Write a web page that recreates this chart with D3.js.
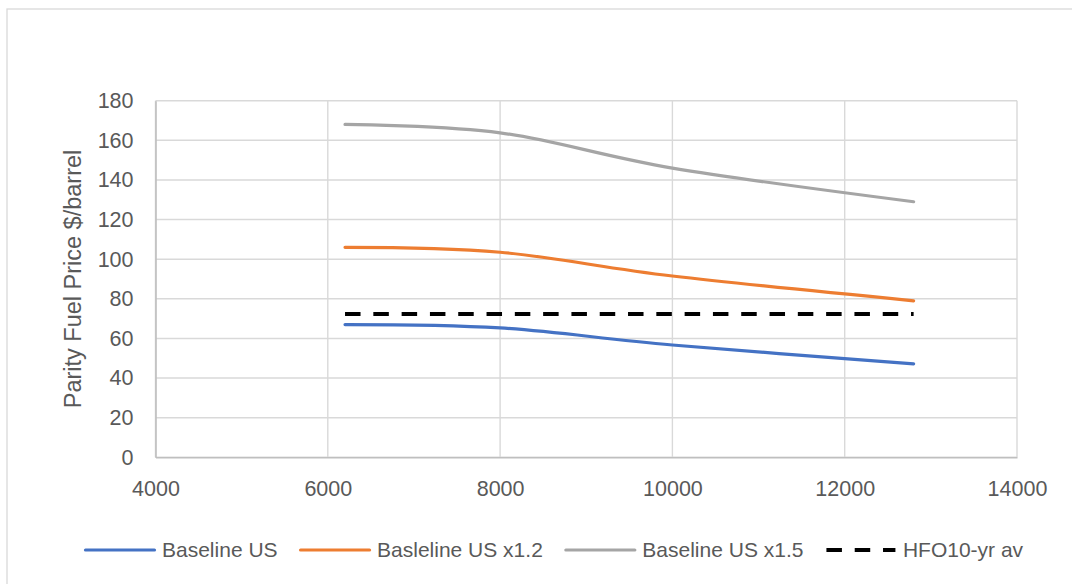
<!DOCTYPE html>
<html>
<head>
<meta charset="utf-8">
<script src="https://cdn.jsdelivr.net/npm/d3@7"></script>
<style>
  html, body { margin: 0; padding: 0; background: #fff; }
  svg { display: block; }
  text { font-family: "Liberation Sans", Arial, sans-serif; fill: #595959; }
</style>
</head>
<body>
<svg id="chart" width="1072" height="584"></svg>
<script>
// Fuel price at parity vs. range, three price scenarios plus the HFO 10-year average
const xValues = [6200, 8000, 10000, 12800];
const baselineUS = [67, 65.3, 56.7, 47.2];
const baselineUS12 = [106, 103.5, 91.5, 79];
const baselineUS15 = [168, 163.8, 146, 129];
const hfoAverage = [72.3, 72.3, 72.3, 72.3];

const xTicks = [4000, 6000, 8000, 10000, 12000, 14000];
const yTicks = [0, 20, 40, 60, 80, 100, 120, 140, 160, 180];

const seriesNames = ["Baseline US", "Basleline US x1.2", "Baseline US x1.5", "HFO10-yr av"];
const seriesColors = ["#4472C4", "#ED7D31", "#A5A5A5", "#000000"];
const seriesValues = [baselineUS, baselineUS12, baselineUS15, hfoAverage];
const seriesDashed = [false, false, false, true];

const svg = d3.select("#chart");
const W = 1072, H = 584;
const plot = { left: 155.5, right: 1017, top: 100.7, bottom: 457.3 };

// outer chart frame
svg.append("rect")
  .attr("x", 7).attr("y", 9)
  .attr("width", W + 20).attr("height", H + 20)
  .attr("fill", "none").attr("stroke", "#d9d9d9").attr("stroke-width", 1.3);

const x = d3.scaleLinear().domain([4000, 14000]).range([plot.left, plot.right]);
const y = d3.scaleLinear().domain([0, 180]).range([plot.bottom, plot.top]);

// gridlines
const grid = svg.append("g");
grid.selectAll("line.h").data(yTicks).join("line")
  .attr("x1", plot.left).attr("x2", plot.right)
  .attr("y1", d => y(d)).attr("y2", d => y(d))
  .attr("stroke", "#d9d9d9").attr("stroke-width", 1.4);
grid.selectAll("line.v").data(xTicks).join("line")
  .attr("y1", plot.top).attr("y2", plot.bottom)
  .attr("x1", d => x(d)).attr("x2", d => x(d))
  .attr("stroke", "#d9d9d9").attr("stroke-width", 1.4);

// axes
const yAxis = svg.append("g")
  .attr("transform", `translate(${plot.left},0)`)
  .call(d3.axisLeft(y).tickValues(yTicks).tickSize(0).tickPadding(22));
const xAxis = svg.append("g")
  .attr("transform", `translate(0,${plot.bottom})`)
  .call(d3.axisBottom(x).tickValues(xTicks).tickSize(0).tickPadding(23).tickFormat(d3.format("d")));
[yAxis, xAxis].forEach(g => {
  g.select(".domain").attr("stroke", "#bfbfbf").attr("stroke-width", 1.6);
  g.selectAll("text").style("font-size", "21.5px").attr("fill", "#595959");
});
xAxis.selectAll("text").attr("dy", "0.71em");

// y-axis title
svg.append("text")
  .attr("transform", `translate(81,${(plot.top + plot.bottom) / 2}) rotate(-90)`)
  .attr("text-anchor", "middle")
  .style("font-size", "23.5px")
  .text("Parity Fuel Price $/barrel");

// series
const line = d3.line()
  .x(d => x(d[0])).y(d => y(d[1]))
  .curve(d3.curveCardinal.tension(0));

seriesValues.forEach((vals, i) => {
  const pts = xValues.map((xv, j) => [xv, vals[j]]);
  svg.append("path")
    .datum(pts)
    .attr("d", seriesDashed[i] ? d3.line().x(d => x(d[0])).y(d => y(d[1]))(pts) : line(pts))
    .attr("fill", "none")
    .attr("stroke", seriesColors[i])
    .attr("stroke-width", seriesDashed[i] ? 4 : 3.2)
    .attr("stroke-linecap", seriesDashed[i] ? "butt" : "round")
    .attr("stroke-dasharray", seriesDashed[i] ? "15.5,12.8" : null);
});

// legend
const legend = svg.append("g").attr("transform", "translate(85.5,550)");
let cursor = 0;
seriesNames.forEach((name, i) => {
  const item = legend.append("g").attr("transform", `translate(${cursor},0)`);
  item.append("line")
    .attr("x1", 0).attr("x2", 69).attr("y1", 0).attr("y2", 0)
    .attr("stroke", seriesColors[i])
    .attr("stroke-width", seriesDashed[i] ? 4 : 3.2)
    .attr("stroke-linecap", seriesDashed[i] ? "butt" : "round")
    .attr("stroke-dasharray", seriesDashed[i] ? "15.5,12.8" : null);
  const t = item.append("text")
    .attr("x", 76.5).attr("y", 0).attr("dy", "0.35em")
    .style("font-size", "21px")
    .text(name);
  cursor += 76.5 + t.node().getComputedTextLength() + 23;
});
</script>
</body>
</html>
